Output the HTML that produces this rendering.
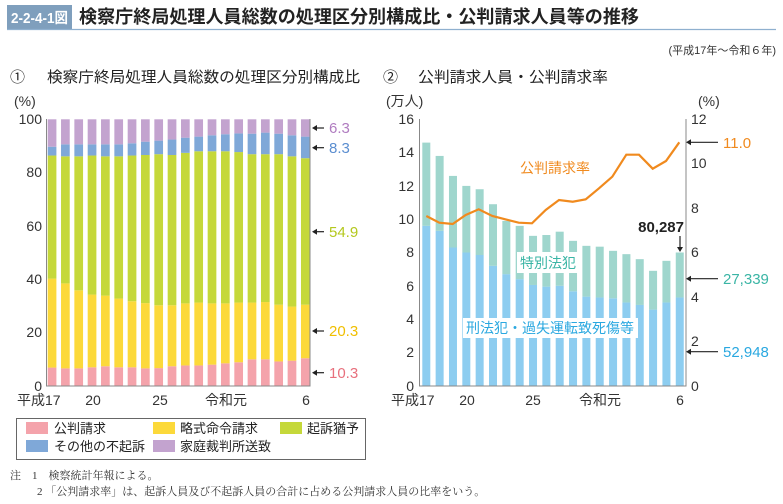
<!DOCTYPE html>
<html><head><meta charset="utf-8"><style>
body{margin:0;background:#fff;width:783px;height:504px;overflow:hidden}
svg{display:block;font-family:"Liberation Sans","Noto Sans CJK JP",sans-serif}
</style></head><body>
<svg id="s" width="783" height="504" viewBox="0 0 783 504">
<rect x="7" y="5" width="65" height="24" fill="#7f9fbd"/>
<text x="11" y="23" font-size="14.5" font-weight="bold" fill="#fff" textLength="57" lengthAdjust="spacingAndGlyphs">2-2-4-1図</text>
<line x1="7" y1="29.5" x2="776" y2="29.5" stroke="#8fb0cf" stroke-width="1.2"/>
<text x="79" y="23" font-size="18" font-weight="bold" fill="#222" textLength="560" lengthAdjust="spacingAndGlyphs">検察庁終局処理人員総数の処理区分別構成比・公判請求人員等の推移</text>
<text x="776" y="54" font-size="11" fill="#333" text-anchor="end">(平成17年〜令和６年)</text>
<text x="10" y="82" font-size="15" fill="#222">①</text>
<text x="47" y="82" font-size="15" fill="#222" textLength="313" lengthAdjust="spacingAndGlyphs">検察庁終局処理人員総数の処理区分別構成比</text>
<text x="383" y="82" font-size="15" fill="#222">②</text>
<text x="418" y="82" font-size="15" fill="#222" textLength="190" lengthAdjust="spacingAndGlyphs">公判請求人員・公判請求率</text>
<g font-size="14" fill="#333">
<text x="14" y="106">(%)</text>
<g text-anchor="end"><text x="42" y="124">100</text><text x="42" y="177">80</text><text x="42" y="231">60</text><text x="42" y="284">40</text><text x="42" y="337">20</text><text x="42" y="391">0</text></g>
<text x="17" y="405">平成17</text><text x="93" y="405" text-anchor="middle">20</text><text x="160" y="405" text-anchor="middle">25</text><text x="226" y="405" text-anchor="middle">令和元</text><text x="306" y="405" text-anchor="middle">6</text>
<text x="386" y="106">(万人)</text><text x="698" y="106">(%)</text>
<g text-anchor="end"><text x="414" y="124">16</text><text x="414" y="157">14</text><text x="414" y="191">12</text><text x="414" y="224">10</text><text x="414" y="257">8</text><text x="414" y="291">6</text><text x="414" y="324">4</text><text x="414" y="357">2</text><text x="414" y="391">0</text></g>
<g><text x="691" y="124">12</text><text x="691" y="168">10</text><text x="691" y="213">8</text><text x="691" y="257">6</text><text x="691" y="302">4</text><text x="691" y="346">2</text><text x="691" y="391">0</text></g>
<text x="391" y="405">平成17</text><text x="467" y="405" text-anchor="middle">20</text><text x="533" y="405" text-anchor="middle">25</text><text x="600" y="405" text-anchor="middle">令和元</text><text x="680" y="405" text-anchor="middle">6</text>
</g>
<g id="L"></g><g id="R"></g>
<g stroke="#888" stroke-width="1" fill="none">
<path d="M46.5 119V386H310V119"/>
<path d="M419.5 119V386H686V119"/>
</g>
<g stroke="#222" stroke-width="1.2">
<line x1="314" y1="128" x2="324" y2="128"/><line x1="314" y1="147.7" x2="324" y2="147.7"/><line x1="314" y1="231.7" x2="324" y2="231.7"/><line x1="314" y1="331" x2="324" y2="331"/><line x1="314" y1="372.7" x2="324" y2="372.7"/>
<line x1="688" y1="142.3" x2="718" y2="142.3"/><line x1="688" y1="278.7" x2="718" y2="278.7"/><line x1="688" y1="351.7" x2="718" y2="351.7"/>
<line x1="680" y1="236" x2="680" y2="250"/>
</g>
<g fill="#222">
<path d="M312 128l5-3v6z"/><path d="M312 147.7l5-3v6z"/><path d="M312 231.7l5-3v6z"/><path d="M312 331l5-3v6z"/><path d="M312 372.7l5-3v6z"/>
<path d="M686 142.3l5-3v6z"/><path d="M686 278.7l5-3v6z"/><path d="M686 351.7l5-3v6z"/><path d="M680 252l-3-5h6z"/>
</g>
<g font-size="15">
<text x="329" y="133" fill="#b07cc0">6.3</text><text x="329" y="153" fill="#5b8ed0">8.3</text><text x="329" y="237" fill="#b4c81e">54.9</text><text x="329" y="336" fill="#f0bf00">20.3</text><text x="329" y="378" fill="#e8707d">10.3</text>
<text x="723" y="148" fill="#f08a1e">11.0</text><text x="723" y="284" fill="#3ab5a5">27,339</text><text x="723" y="357" fill="#2aa8e0">52,948</text>
<text x="684" y="232" fill="#222" font-weight="bold" text-anchor="end">80,287</text>
</g>
<text x="520" y="173" font-size="14" fill="#f08a1e">公判請求率</text>
<rect x="517" y="252" width="63" height="21" fill="#fff"/>
<text x="548" y="268" font-size="14" fill="#3ab5a5" text-anchor="middle">特別法犯</text>
<rect x="463" y="318" width="175" height="20" fill="#fff"/>
<text x="550" y="333" font-size="14" fill="#2aa8e0" text-anchor="middle">刑法犯・過失運転致死傷等</text>
<rect x="16.5" y="418.5" width="349" height="41" fill="#fff" stroke="#666"/>
<g font-size="13" fill="#222">
<rect x="26" y="422" width="22" height="12" fill="#f4a3ab"/><text x="54" y="433">公判請求</text>
<rect x="153" y="422" width="22" height="12" fill="#fcd93a"/><text x="180" y="433">略式命令請求</text>
<rect x="280" y="422" width="22" height="12" fill="#c5d83a"/><text x="307" y="433">起訴猶予</text>
<rect x="26" y="440" width="22" height="12" fill="#7fa8d8"/><text x="54" y="451">その他の不起訴</text>
<rect x="153" y="440" width="22" height="12" fill="#c3a3cf"/><text x="180" y="451">家庭裁判所送致</text>
</g>
<g font-size="11" fill="#333" font-family="'Liberation Serif','Noto Serif CJK SC',serif">
<text x="10" y="479">注　1　検察統計年報による。</text>
<text x="37" y="495">2 「公判請求率」は、起訴人員及び不起訴人員の合計に占める公判請求人員の比率をいう。</text>
</g>
</svg>
<script>
var NS="http://www.w3.org/2000/svg";
function r(g,x,y,w,h,c){var e=document.createElementNS(NS,"rect");e.setAttribute("x",x);e.setAttribute("y",y);e.setAttribute("width",w);e.setAttribute("height",h);e.setAttribute("fill",c);g.appendChild(e);}
var pk=[6.8,6.5,6.5,6.9,7.3,6.9,6.9,6.5,6.6,7.3,7.6,7.6,7.9,8.4,8.8,9.9,9.9,9.1,9.4,10.3];
var yl=[40.2,38.4,35.8,34.2,33.8,32.7,31.7,31.0,30.2,30.2,30.9,31.2,30.9,30.9,31.2,31.2,31.4,30.4,29.7,30.4];
var gr=[86.4,86.1,86.1,86.4,86.1,86.1,86.4,86.6,86.9,86.6,87.4,88.0,88.0,88.0,87.7,86.9,86.9,86.9,86.1,85.4];
var bl=[89.7,90.6,90.6,90.6,90.6,90.6,91.0,91.6,92.0,92.4,93.1,93.5,94.0,94.4,94.7,94.6,95.0,94.6,94.0,93.5];
var L=document.getElementById("L"),R=document.getElementById("R");
function Y(p){return 385.7-p*2.664;}
for(var i=0;i<20;i++){var x=47.7+i*13.33,w=8.7;
var st=[[0,pk[i],"#f4a3ab"],[pk[i],yl[i],"#fcd93a"],[yl[i],gr[i],"#c5d83a"],[gr[i],bl[i],"#7fa8d8"],[bl[i],100,"#c3a3cf"]];
st.forEach(function(s){r(L,x,Y(s[1]),w,Y(s[0])-Y(s[1]),s[2]);});}
var tot=[14.6,13.8,12.6,12.0,11.8,10.9,9.9,9.6,9.0,9.05,9.25,8.7,8.4,8.35,8.1,7.9,7.6,6.9,7.5,8.0];
var bb=[9.6,9.3,8.3,8.0,7.85,7.2,6.7,6.4,6.05,5.95,6.0,5.67,5.35,5.3,5.25,5.0,4.85,4.57,5.0,5.3];
function Y2(v){return 385.7-v*16.65;}
for(var i=0;i<20;i++){var x=422.3+i*13.34,w=8;
r(R,x,Y2(bb[i]),w,Y2(0)-Y2(bb[i]),"#8dcdf0");r(R,x,Y2(tot[i]),w,Y2(bb[i])-Y2(tot[i]),"#9fd6cd");}
var pts=[[139,378],[178,398],[218,402],[257,375],[296,358],[337,378],[376,388],[416,398],[456,400],[497,360],[537,330],[578,335],[617,328],[657,295],[697,260],[739,194],[777,194],[818,236],[858,213],[898,157]];
var d=pts.map(function(p,i){return (i?"L":"M")+(380+p[0]/3).toFixed(1)+" "+(90+p[1]/3).toFixed(1);}).join("");
var pa=document.createElementNS(NS,"path");pa.setAttribute("d",d);pa.setAttribute("fill","none");pa.setAttribute("stroke","#f08a1e");pa.setAttribute("stroke-width","2.2");R.appendChild(pa);
</script>
</body></html>
